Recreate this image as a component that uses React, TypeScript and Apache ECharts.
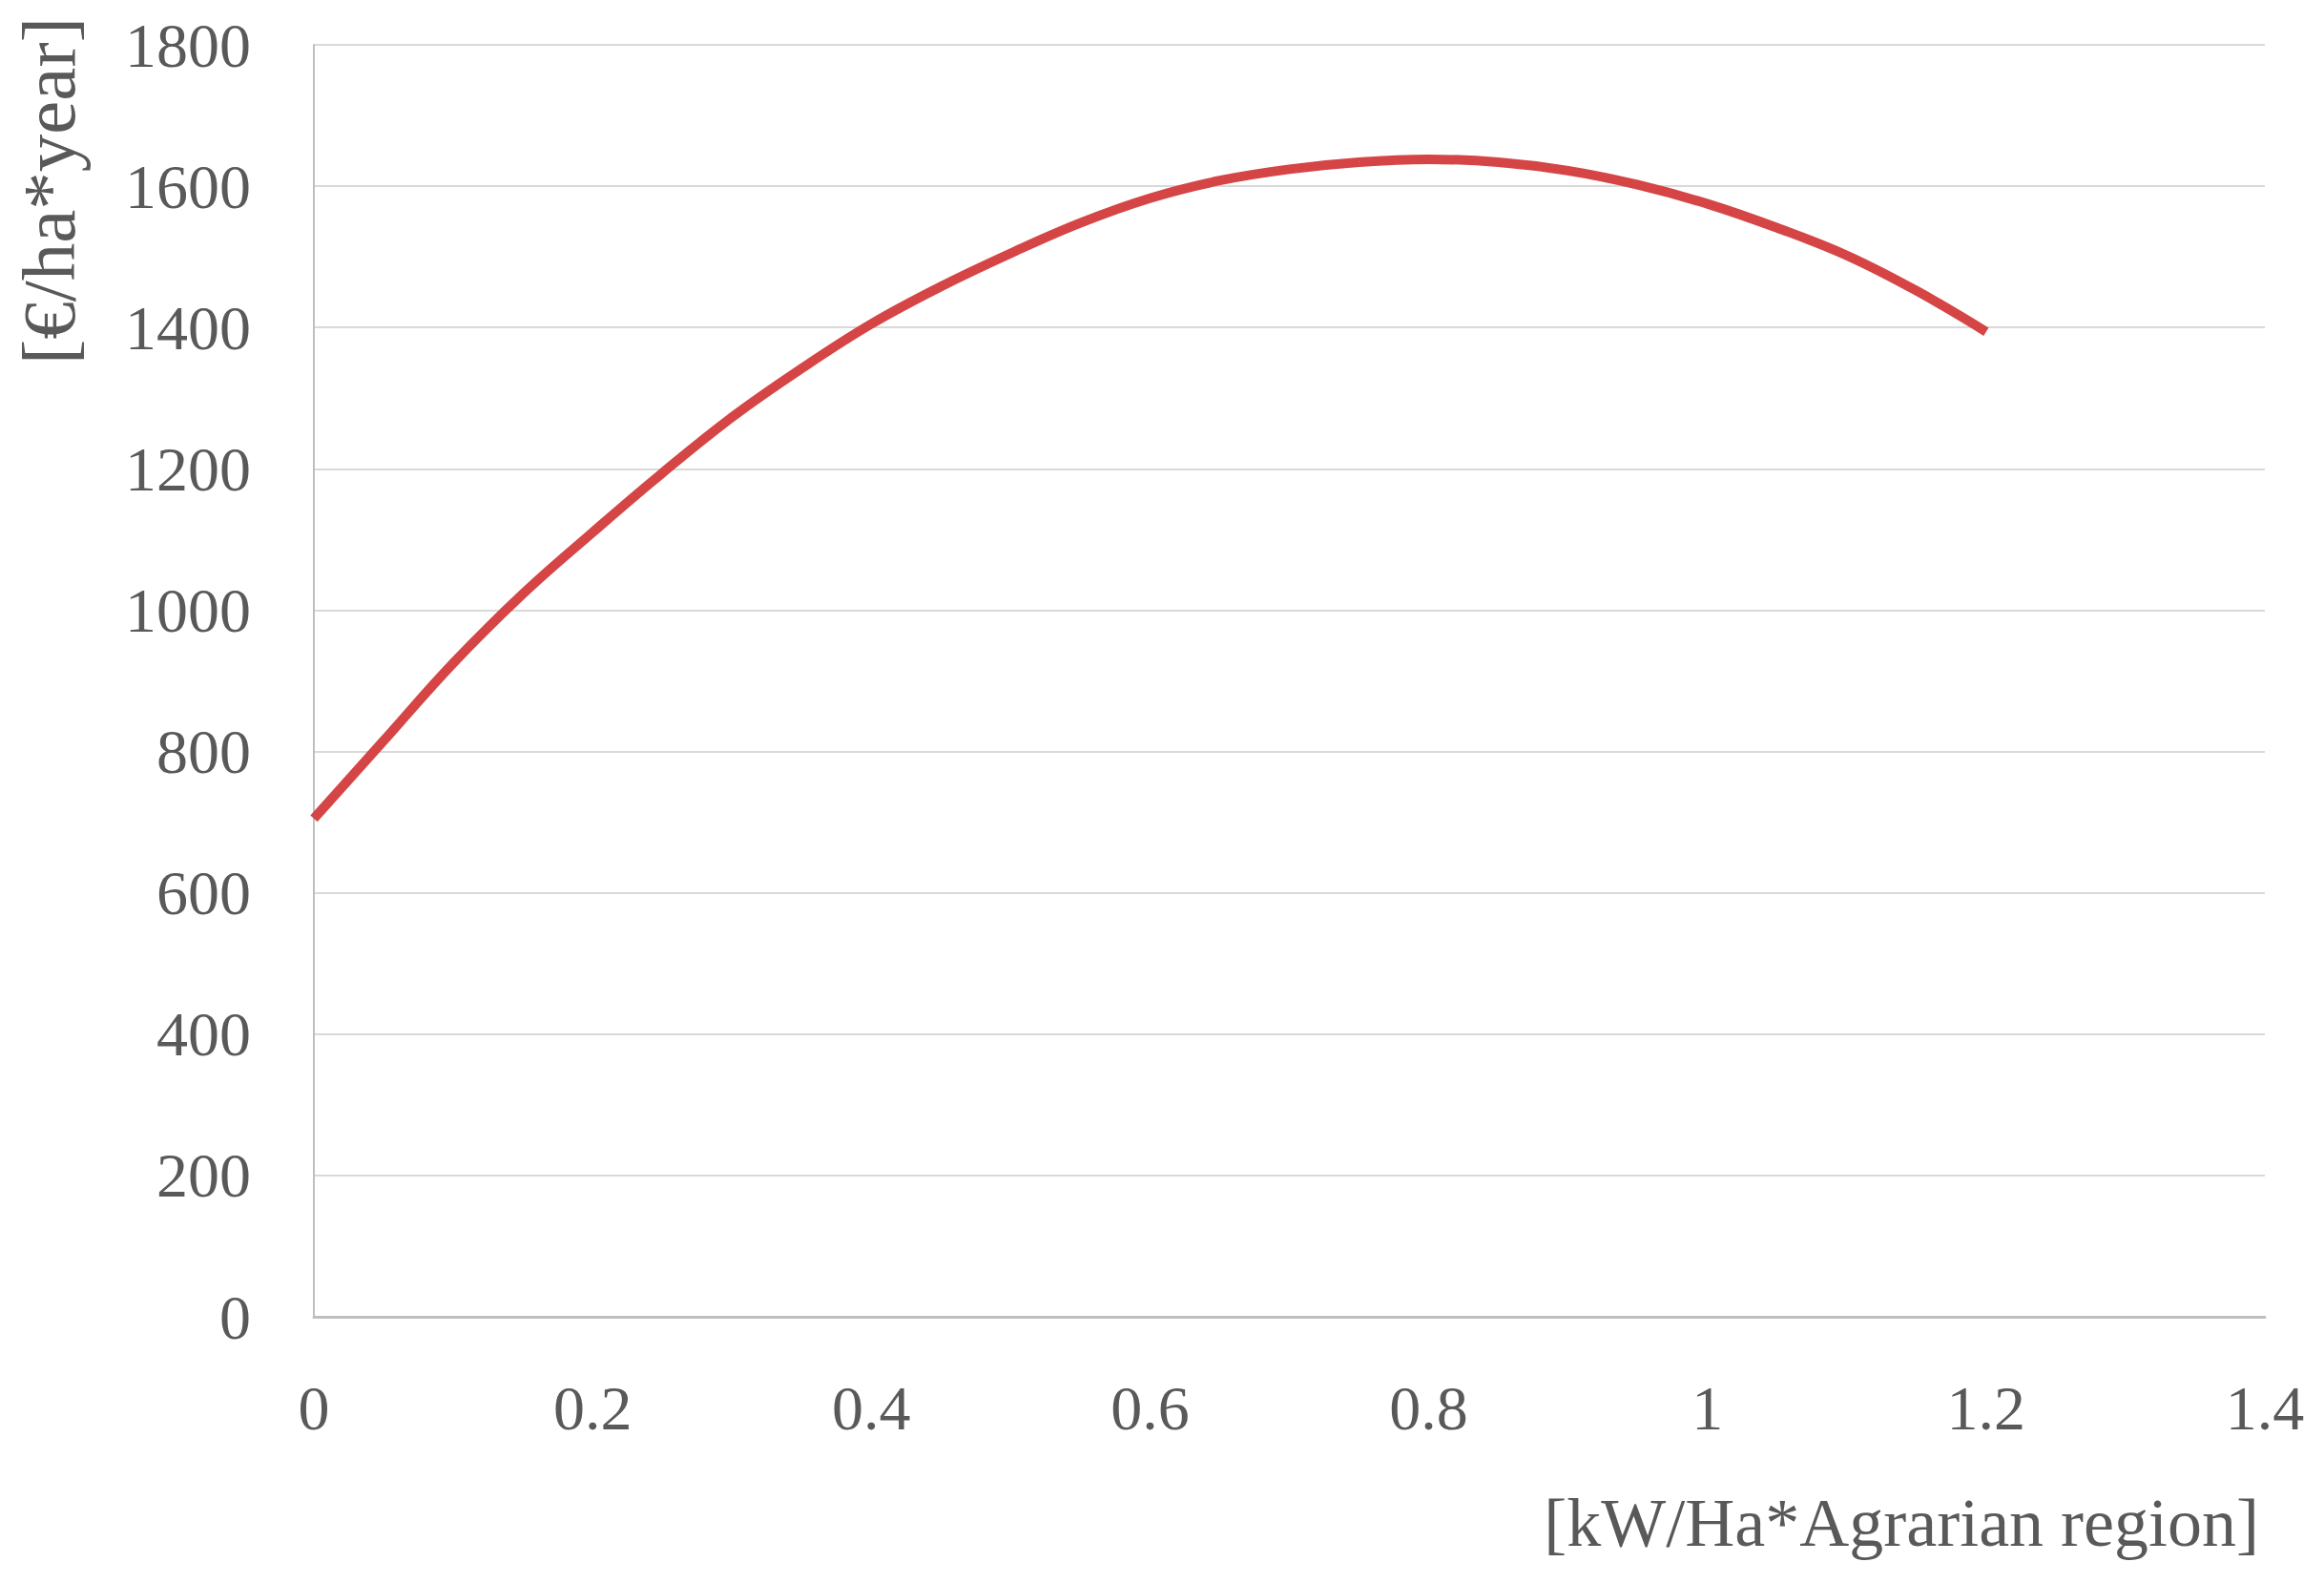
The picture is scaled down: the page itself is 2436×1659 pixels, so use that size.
import React, { useEffect, useRef } from "react";
import * as echarts from "echarts";

const xValues = [0, 0.05, 0.1, 0.15, 0.2, 0.25, 0.3, 0.35, 0.4, 0.45, 0.5, 0.55, 0.6, 0.65, 0.7, 0.75, 0.8, 0.85, 0.9, 0.95, 1.0, 1.05, 1.1, 1.15, 1.2];
const yValues = [705, 815, 925, 1023, 1110, 1194, 1273, 1342, 1405, 1458, 1505, 1548, 1583, 1608, 1624, 1634, 1638, 1634, 1622, 1602, 1575, 1541, 1502, 1452, 1394];
const xTitle = "[kW/Ha*Agrarian region]";
const yTitle = "[€/ha*year]";

const FONT = "'Liberation Serif', 'Times New Roman', serif";

export default function App() {
  const ref = useRef<HTMLDivElement>(null);
  useEffect(() => {
    if (!ref.current) return;
    const chart = echarts.init(ref.current, null, { renderer: "svg" });
    const data = xValues.map((x, i) => [x, yValues[i]]);
    chart.setOption({
      animation: false,
      backgroundColor: "#ffffff",
      grid: { left: 329, right: 62, top: 47, bottom: 279, containLabel: false },
      xAxis: {
        type: "value",
        min: 0,
        max: 1.4,
        interval: 0.2,
        axisLine: { show: true, lineStyle: { color: "#bfbfbf", width: 3 } },
        axisTick: { show: false },
        splitLine: { show: false },
        axisLabel: { color: "#595959", fontFamily: FONT, fontSize: 66, margin: 62, formatter: (v: number) => String(Math.round(v * 10) / 10) },
      },
      yAxis: {
        type: "value",
        min: 0,
        max: 1800,
        interval: 200,
        axisLine: { show: true, lineStyle: { color: "#bfbfbf", width: 2 } },
        axisTick: { show: false },
        splitLine: { show: true, lineStyle: { color: "#d9d9d9", width: 2 } },
        axisLabel: { color: "#595959", fontFamily: FONT, fontSize: 66, margin: 66, formatter: (v: number) => String(Math.round(v)) },
      },
      series: [
        {
          type: "line",
          data,
          smooth: 0.4,
          showSymbol: false,
          lineStyle: { color: "#d64545", width: 10 },
        },
      ],
      graphic: [
        {
          type: "text",
          right: 68,
          top: 1560,
          style: { text: xTitle, fill: "#595959", font: `72px ${FONT}`, textAlign: "right" },
        },
        {
          type: "text",
          left: 12,
          top: 18,
          rotation: Math.PI / 2,
          style: { text: yTitle, fill: "#595959", font: `79px ${FONT}` },
        },
      ],
    });
    return () => chart.dispose();
  }, []);
  return <div ref={ref} style={{ position: "absolute", left: 0, top: 0, width: 2436, height: 1659 }} />;
}
